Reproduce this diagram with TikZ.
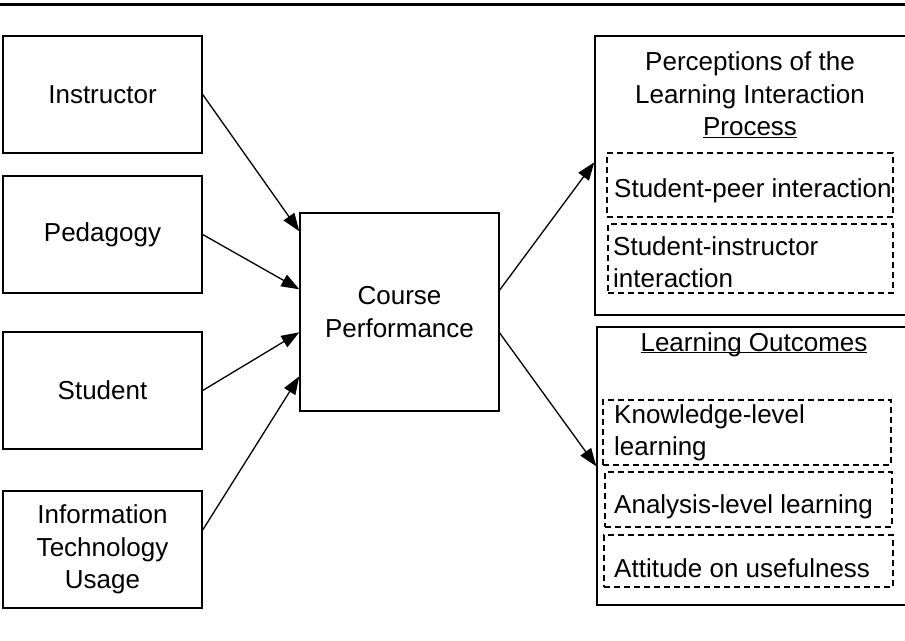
\documentclass[tikz,border=0pt]{standalone}
\usepackage{fontspec}
\setmainfont{Liberation Sans}
\usetikzlibrary{arrows.meta}
\newcommand\ulsm[1]{\underline{\smash{#1}}}
\tikzset{
  box/.style={draw, line width=1.4pt, inner sep=0pt},
  dbox/.style={draw, dash pattern=on 6pt off 4pt, line width=1.2pt, inner sep=0pt},
  txt/.style={font=\fontsize{26}{32.5}\selectfont, align=center, inner sep=0pt},
  ltxt/.style={font=\fontsize{26}{32}\selectfont, align=left, inner sep=0pt},
  arr/.style={line width=1.3pt, -{Triangle[length=18pt,width=13pt]}},
}
\begin{document}
\begin{tikzpicture}[x=1pt,y=-1pt]
\useasboundingbox (0,0) rectangle (905,640);
\draw[line width=3.5pt] (0,4.5) -- (905,4.5);

% left boxes
\node[box, txt, minimum width=199pt, minimum height=117pt] (instr) at (102.5,94.5) {Instructor};
\node[box, txt, minimum width=199pt, minimum height=117pt] (ped) at (102.5,234.5) {Pedagogy};
\node[box, txt, minimum width=199pt, minimum height=117pt] (stu) at (102.5,390.5) {Student};
\node[box, txt, minimum width=199pt, minimum height=117pt] (itu) at (102.5,549.5) {Information\\Technology\\Usage};

% centre
\node[box, txt, minimum width=199pt, minimum height=198pt] (cp) at (399.5,312) {Course\\Performance};

% right top
\node[box, minimum width=320pt, minimum height=279pt] (perc) at (755,175.5) {};
\node[txt] (perct) at (750,95) {Perceptions of the\\Learning Interaction\\\ulsm{Process}};
\node[dbox, minimum width=286pt, minimum height=64pt] (sp) at (750,185) {};
\node[ltxt, anchor=base west] (tsp) at (614,197) {Student-peer interaction};
\node[dbox, minimum width=285pt, minimum height=69pt] (si) at (750.5,258.5) {};
\node[ltxt, anchor=north west] (tsi) at (613,236.5) {Student-instructor\\interaction};

% right bottom
\node[box, minimum width=318pt, minimum height=278pt] (lo) at (756,466) {};
\node[txt] (lot) at (754,352) {\ulsm{Learning Outcomes}};
\node[dbox, minimum width=288pt, minimum height=65pt] (kl) at (747,432.5) {};
\node[ltxt, anchor=north west] (tkl) at (614,404.5) {Knowledge-level\\learning};
\node[dbox, minimum width=287pt, minimum height=55pt] (al) at (748.5,499.5) {};
\node[ltxt, anchor=base west] (tal) at (614,513) {Analysis-level learning};
\node[dbox, minimum width=289pt, minimum height=52pt] (au) at (748.5,561) {};
\node[ltxt, anchor=base west] (tau) at (614,577) {Attitude on usefulness};

% arrows
\draw[arr] (instr.east) -- ([yshift=-19pt]cp.north west);
\draw[arr] (ped.east) -- ([yshift=-77pt]cp.north west);
\draw[arr] (stu.east) -- ([yshift=-120pt]cp.north west);
\draw[arr] ([yshift=19.5pt]itu.east) -- ([yshift=-164pt]cp.north west);
\draw[arr] ([yshift=22pt]cp.east) -- ([yshift=-127pt]perc.north west);
\draw[arr] ([yshift=-21pt]cp.east) -- ([yshift=-140pt]lo.north west);
\end{tikzpicture}
\end{document}
